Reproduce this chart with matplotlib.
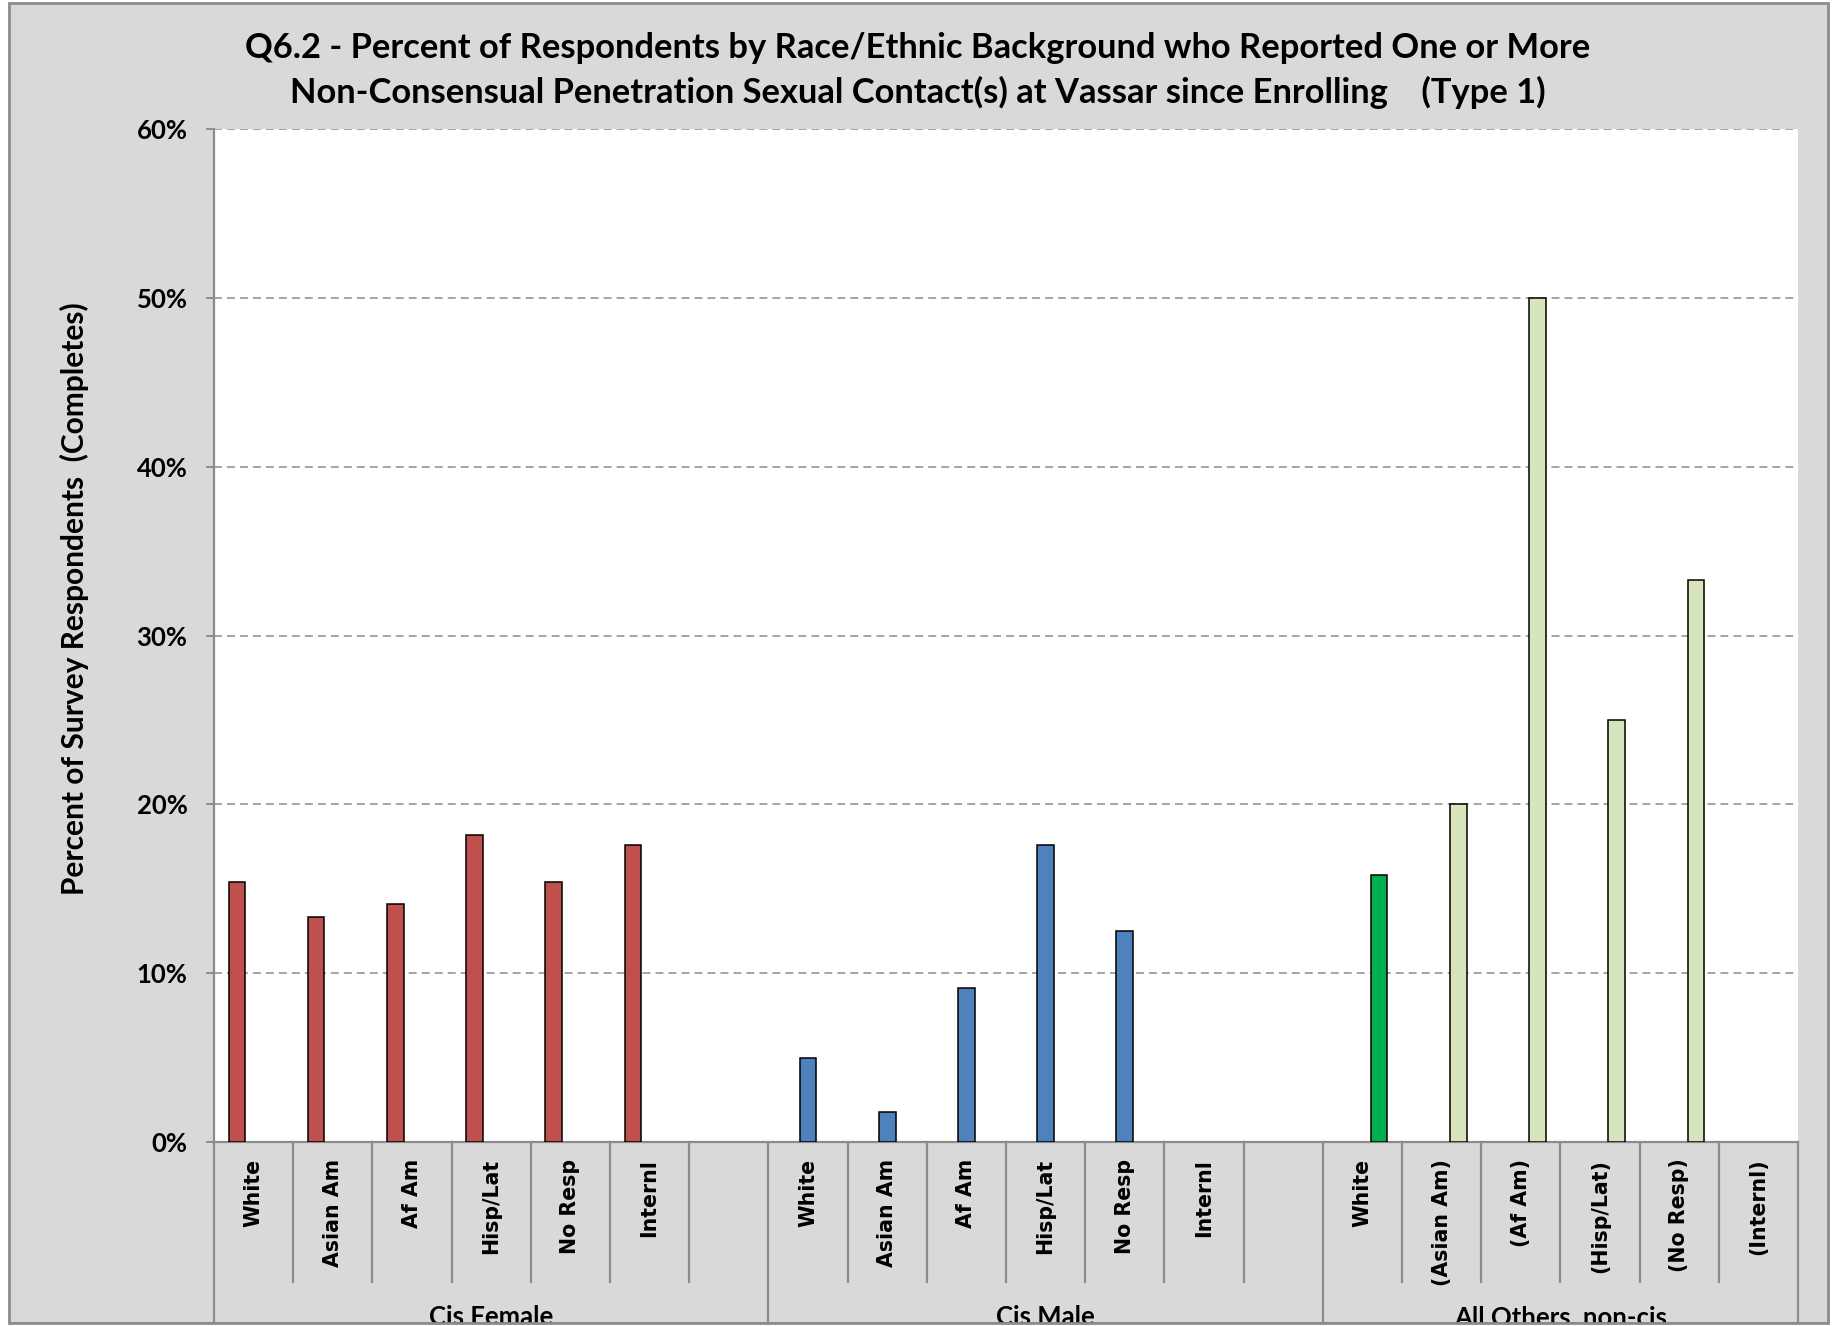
import matplotlib
matplotlib.use("Agg")
import matplotlib.pyplot as plt
import matplotlib.patches as mpatches
import matplotlib.transforms as mtransforms
import numpy as np

# ── Data ──────────────────────────────────────────────────────────────────────
groups = ["Cis Female", "Cis Male", "All Others, non-cis"]
female_labels = ["White", "Asian Am", "Af Am", "Hisp/Lat", "No Resp", "Internl", ""]
male_labels   = ["White", "Asian Am", "Af Am", "Hisp/Lat", "No Resp", "Internl", ""]
other_labels  = ["White", "(Asian Am)", "(Af Am)", "(Hisp/Lat)", "(No Resp)", "(Internl)"]

female_pct = [15.4, 13.3, 14.1, 18.2, 15.4, 17.6]
male_pct   = [5.0, 1.8, 9.1, 17.6, 12.5, 0.0]
other_pct  = [15.8, 20.0, 50.0, 25.0, 33.3, 0.0]

# ── Style ─────────────────────────────────────────────────────────────────────
W, H, DPI = 1835, 1326, 100
RED, BLUE, GREEN, PALE = "#C0504D", "#4F81BD", "#00B050", "#D7E4BC"
GRAY_BG, GRAY_LN = "#D9D9D9", "#8C8C8C"
CAL = ["Lato", "DejaVu Sans"]

fig = plt.figure(figsize=(W / DPI, H / DPI), dpi=DPI, facecolor="white")

def fx(px):
    return px / W

def fy(py):
    return 1 - py / H

# chart background with border
fig.add_artist(mpatches.Rectangle((fx(9), fy(1323)), fx(1828 - 9), (1323 - 3) / H,
                                  transform=fig.transFigure, facecolor=GRAY_BG,
                                  edgecolor=GRAY_LN, lw=2, zorder=-1))

ax = fig.add_axes([fx(214), fy(1142), fx(1798 - 214), (1142 - 129) / H])
ax.set_facecolor("white")

# slot layout: 7 + 7 + 6 category slots
labels = female_labels + male_labels + other_labels
n_slots = len(labels)
centers = np.arange(n_slots) + 0.5
bw = 0.21

x_f = centers[0:len(female_pct)]
x_m = centers[7:7 + len(male_pct)]
x_o = centers[14:14 + len(other_pct)]

def edges(vals):
    # Excel draws nothing for an empty (0%) bar
    return ["black" if v > 0 else "none" for v in vals]

ax.bar(x_f - bw, female_pct, width=bw, color=RED, edgecolor=edges(female_pct), lw=1.1, zorder=3)
ax.bar(x_m, male_pct, width=bw, color=BLUE, edgecolor=edges(male_pct), lw=1.1, zorder=3)
other_colors = [GREEN] + [PALE] * (len(other_pct) - 1)
ax.bar(x_o + bw, other_pct, width=bw, color=other_colors, edgecolor=edges(other_pct),
       lw=1.1, zorder=3)

ax.set_xlim(0, n_slots)
ax.set_ylim(0, 60)
ax.set_yticks(range(0, 61, 10))
ax.set_yticklabels([f"{v}%" for v in range(0, 61, 10)], family=CAL,
                   fontweight="bold", fontsize=18.5)
ax.tick_params(axis="y", length=6, width=1.4, color=GRAY_LN, pad=13)
for v in range(10, 61, 10):
    ax.axhline(v, color=GRAY_LN, lw=1.1, ls=(0, (5.2, 3.3)), zorder=1)

ax.set_xticks(centers)
ax.set_xticklabels(labels, rotation=90, fontsize=14.8, fontweight="bold",
                   family="DejaVu Sans", va="top", ha="center")
ax.tick_params(axis="x", length=0, pad=12)

for side in ["top", "right"]:
    ax.spines[side].set_visible(False)
for side in ["left", "bottom"]:
    ax.spines[side].set_color(GRAY_LN)
    ax.spines[side].set_linewidth(1.6)

# category separators below the axis
trans = mtransforms.blended_transform_factory(ax.transData, fig.transFigure)
group_edges = [0, 7, 14, n_slots]
for b in range(n_slots + 1):
    y_end = fy(1323) if b in group_edges else fy(1282)
    ax.plot([b, b], [fy(1142), y_end], transform=trans, color=GRAY_LN,
            lw=1.6, clip_on=False, zorder=2)

group_centers = [3.5, 10.5, 17.0]
for g, c in zip(groups, group_centers):
    ax.text(c, fy(1305), g, transform=trans, ha="center", va="top",
            family=CAL, fontweight="bold", fontsize=18.5)

fig.text(fx(74), fy(599), "Percent of Survey Respondents  (Completes)", rotation=90,
         ha="center", va="center", family=CAL, fontweight="bold", fontsize=21.5)

fig.text(0.5, fy(48), "Q6.2 - Percent of Respondents by Race/Ethnic Background who Reported One or More",
         ha="center", va="center", family=CAL, fontweight="bold", fontsize=24.8)
fig.text(0.5, fy(92), "Non-Consensual Penetration Sexual Contact(s) at Vassar since Enrolling    (Type 1)",
         ha="center", va="center", family=CAL, fontweight="bold", fontsize=24.8)

# bottom border drawn over the clipped group labels
fig.add_artist(mpatches.Rectangle((0, 0), 1, fy(1323), transform=fig.transFigure,
                                  facecolor="white", edgecolor="none", zorder=20))
fig.add_artist(plt.Line2D([fx(9), fx(1828)], [fy(1323), fy(1323)], transform=fig.transFigure,
                          color=GRAY_LN, lw=2, zorder=21))

fig.savefig("out.png", dpi=DPI)
